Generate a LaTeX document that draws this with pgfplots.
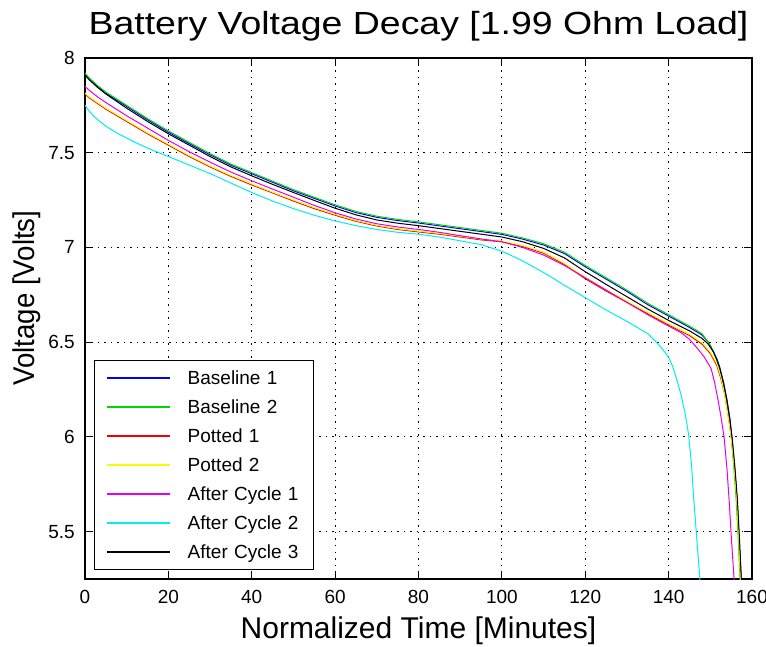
\documentclass[border=0pt]{standalone}
\usepackage{fontspec}
\setmainfont{Liberation Sans}
\newfontfamily\titlefont[FakeStretch=1.17]{Liberation Sans}
\newfontfamily\ylabfont[FakeStretch=0.92]{Liberation Sans}
\usepackage{pgfplots}
\pgfplotsset{compat=1.18}
\definecolor{cB}{rgb}{0,0,1}
\definecolor{cG}{rgb}{0,0.85,0}
\definecolor{cR}{rgb}{0.95,0,0}
\definecolor{cY}{rgb}{0.98,0.98,0}
\definecolor{cM}{rgb}{0.9,0,0.9}
\definecolor{cC}{rgb}{0,0.93,0.93}
\begin{document}
\begin{tikzpicture}
\path[use as bounding box] (-85bp,-68bp) rectangle (681bp,579bp);
\begin{axis}[
  at={(0,0)}, anchor=south west,
  scale only axis, width=667bp, height=521bp,
  xmin=0, xmax=160, ymin=5.25, ymax=8,
  xtick={0,20,...,160},
  ytick={5.5,6,6.5,7,7.5,8},
  yticklabels={5.5,6,6.5,7,7.5,8},
  /pgf/number format/assume math mode=true,
  ticklabel style={font=\fontsize{19bp}{22bp}\selectfont},
  xticklabel style={anchor=north, inner sep=0pt, yshift=-11bp},
  yticklabel style={anchor=east, inner sep=0pt, xshift=-10bp},
  tick align=inside, major tick length=8bp,
  tick style={black, line width=1bp},
  axis line style={black, line width=1.2bp},
  grid=major,
  major grid style={black, line width=1.1bp, dash pattern=on 1.5bp off 5bp},
  title={Battery Voltage Decay [1.99 Ohm Load]},
  every axis title/.style={at={(0.5,1)}, anchor=base, yshift=23bp, inner sep=0pt, font=\fontsize{32bp}{38bp}\selectfont\titlefont},
  xlabel={Normalized Time [Minutes]},
  every axis x label/.style={at={(0.5,0)}, anchor=base, yshift=-59bp, inner sep=0pt, font=\fontsize{30bp}{36bp}\selectfont},
  ylabel={Voltage [Volts]},
  every axis y label/.style={at={(0,0.539)}, xshift=-50bp, rotate=90, anchor=base, inner sep=0pt, font=\fontsize{30bp}{36bp}\selectfont\ylabfont},
  legend cell align=left,
  legend image code/.code={\draw[line width=1.2bp,#1] (0bp,0bp) -- (63bp,0bp);},
  legend style={at={(0,0)}, anchor=south west, xshift=9bp, yshift=9bp,
    draw=black, line width=1bp, fill=white,
    font=\fontsize{19bp}{22bp}\selectfont,
    inner xsep=12bp, inner ysep=9bp, row sep=12bp, column sep=17bp,
    nodes={inner sep=0pt, text height=15bp, text depth=2bp, text width=114bp}},
]
% Baseline 1
\addplot[color=cB, line width=1bp] coordinates {(0,7.915)(1,7.89)(3,7.85)(5,7.814)(10,7.744)(15,7.674)(20,7.608)(25,7.548)(30,7.489)(35,7.434)(40,7.389)(45,7.344)(50,7.299)(55,7.259)(60,7.219)(65,7.184)(70,7.159)(75,7.142)(80,7.129)(85,7.114)(90,7.099)(95,7.084)(100,7.069)(105,7.044)(110,7.013)(115,6.968)(120,6.898)(125,6.833)(130,6.768)(135,6.698)(140,6.638)(145,6.578)(148,6.538)(149.7,6.495)(150.9,6.445)(151.7,6.405)(152.3,6.365)(153.2,6.285)(154,6.195)(154.7,6.095)(155.2,5.995)(155.8,5.845)(156.4,5.665)(156.9,5.455)(157.3,5.265)(157.5,5.15)};
% Baseline 2
\addplot[color=cG, line width=1bp] coordinates {(0,7.92)(1,7.895)(3,7.855)(5,7.82)(10,7.75)(15,7.68)(20,7.615)(25,7.555)(30,7.495)(35,7.44)(40,7.395)(45,7.35)(50,7.305)(55,7.265)(60,7.225)(65,7.19)(70,7.165)(75,7.148)(80,7.135)(85,7.12)(90,7.105)(95,7.09)(100,7.075)(105,7.05)(110,7.02)(115,6.975)(120,6.905)(125,6.84)(130,6.775)(135,6.705)(140,6.645)(145,6.585)(148,6.545)(149.5,6.5)(150.7,6.45)(151.5,6.41)(152.1,6.37)(153,6.29)(153.8,6.2)(154.5,6.1)(155,6.0)(155.6,5.85)(156.2,5.67)(156.7,5.46)(157.1,5.27)(157.3,5.15)};
% Potted 1
\addplot[color=cR, line width=1bp] coordinates {(0,7.81)(1,7.79)(3,7.76)(5,7.73)(10,7.665)(15,7.6)(20,7.54)(25,7.48)(30,7.425)(35,7.375)(40,7.33)(45,7.288)(50,7.245)(55,7.205)(60,7.17)(65,7.138)(70,7.113)(75,7.095)(80,7.082)(85,7.07)(90,7.055)(95,7.04)(100,7.03)(105,7.005)(110,6.97)(115,6.91)(120,6.835)(125,6.77)(130,6.71)(135,6.65)(140,6.59)(145,6.535)(148,6.49)(150,6.44)(151.5,6.38)(152.5,6.31)(153.5,6.22)(154.3,6.11)(155,6.01)(155.7,5.86)(156.4,5.67)(156.9,5.46)(157.4,5.26)(157.6,5.15)};
% Potted 2
\addplot[color=cY, line width=1bp] coordinates {(0,7.815)(1,7.795)(3,7.765)(5,7.735)(10,7.67)(15,7.605)(20,7.545)(25,7.485)(30,7.43)(35,7.38)(40,7.335)(45,7.292)(50,7.25)(55,7.21)(60,7.175)(65,7.142)(70,7.117)(75,7.099)(80,7.086)(85,7.074)(90,7.059)(95,7.044)(100,7.034)(105,7.01)(110,6.975)(115,6.916)(120,6.842)(125,6.777)(130,6.717)(135,6.657)(140,6.597)(145,6.542)(148,6.498)(150,6.448)(151.5,6.39)(152.5,6.32)(153.4,6.23)(154.2,6.12)(154.9,6.02)(155.6,5.87)(156.3,5.68)(156.8,5.47)(157.2,5.27)(157.4,5.15)};
% After Cycle 1
\addplot[color=cM, line width=1bp] coordinates {(0,7.85)(1,7.83)(3,7.795)(5,7.765)(10,7.695)(15,7.63)(20,7.565)(25,7.505)(30,7.45)(35,7.398)(40,7.352)(45,7.308)(50,7.265)(55,7.222)(60,7.183)(65,7.15)(70,7.125)(75,7.108)(80,7.095)(85,7.08)(90,7.062)(95,7.045)(100,7.03)(105,7.0)(110,6.96)(115,6.905)(120,6.84)(125,6.775)(130,6.71)(135,6.645)(140,6.585)(143,6.55)(145,6.515)(147,6.465)(148.6,6.42)(150.2,6.36)(151,6.29)(151.9,6.19)(152.6,6.1)(153.3,6.0)(154,5.83)(154.5,5.67)(155.1,5.45)(155.7,5.25)(155.9,5.15)};
% After Cycle 2
\addplot[color=cC, line width=1bp] coordinates {(0,7.75)(1,7.72)(2,7.695)(3,7.675)(5,7.64)(8,7.6)(12,7.555)(16,7.515)(20,7.48)(25,7.435)(30,7.39)(35,7.34)(40,7.29)(45,7.245)(50,7.205)(55,7.17)(60,7.14)(65,7.115)(70,7.095)(75,7.08)(80,7.07)(85,7.055)(90,7.035)(95,7.015)(100,6.98)(104,6.94)(107,6.905)(111,6.855)(115,6.8)(120,6.735)(125,6.67)(130,6.61)(135,6.545)(137.5,6.49)(139,6.45)(140,6.42)(141,6.37)(142,6.3)(143,6.22)(144,6.12)(144.8,6.01)(145.5,5.85)(146,5.68)(146.8,5.45)(147.5,5.25)(147.7,5.15)};
% After Cycle 3
\addplot[color=black, line width=1bp] coordinates {(0,7.91)(1,7.885)(3,7.845)(5,7.81)(10,7.735)(15,7.665)(20,7.6)(25,7.54)(30,7.48)(35,7.425)(40,7.378)(45,7.333)(50,7.29)(55,7.248)(60,7.207)(65,7.172)(70,7.145)(75,7.128)(80,7.115)(85,7.1)(90,7.085)(95,7.07)(100,7.055)(105,7.03)(110,6.995)(115,6.945)(120,6.872)(125,6.805)(130,6.74)(135,6.675)(140,6.615)(145,6.56)(148,6.52)(149.5,6.49)(150.7,6.45)(151.5,6.41)(152.3,6.36)(153.2,6.28)(154,6.19)(154.7,6.09)(155.3,5.98)(155.9,5.84)(156.5,5.67)(157,5.46)(157.4,5.27)(157.6,5.15)};
\legend{Baseline 1, Baseline 2, Potted 1, Potted 2, After Cycle 1, After Cycle 2, After Cycle 3}
\end{axis}
\end{tikzpicture}
\end{document}
